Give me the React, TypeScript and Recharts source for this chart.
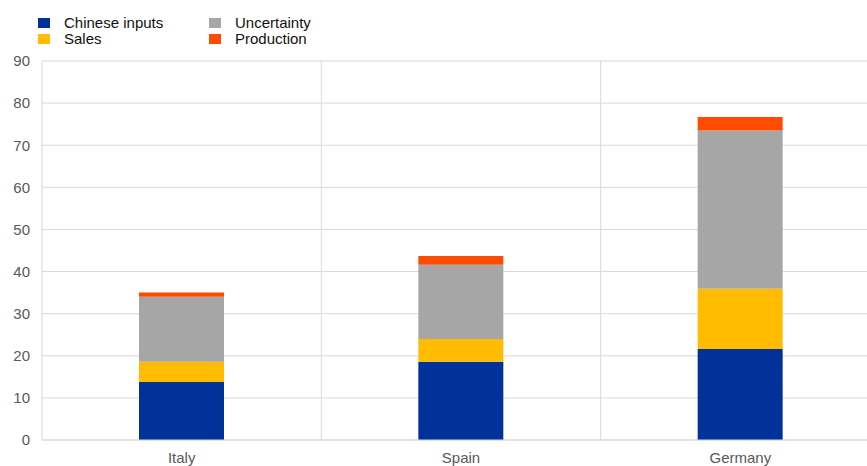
import { BarChart, Bar, XAxis, YAxis, CartesianGrid } from "recharts";

const countries = ["Italy", "Spain", "Germany"];
const chineseInputs = [13.8, 18.6, 21.6];
const sales = [4.8, 5.4, 14.3];
const uncertainty = [15.4, 17.6, 37.6];
const production = [1.0, 2.1, 3.2];
const yTicks = [0, 10, 20, 30, 40, 50, 60, 70, 80, 90];

const SERIES = [
  { key: "chineseInputs", name: "Chinese inputs", color: "#003299" },
  { key: "sales", name: "Sales", color: "#FFBC00" },
  { key: "uncertainty", name: "Uncertainty", color: "#A6A6A6" },
  { key: "production", name: "Production", color: "#FF4B00" },
];

// legend laid out column by column, like the original
const LEGEND_ORDER = ["chineseInputs", "sales", "uncertainty", "production"];

const GRID = "#d9d9d9";
const FONT = "'Liberation Sans', Arial, sans-serif";

const data = countries.map((name, i) => ({
  name,
  chineseInputs: chineseInputs[i],
  sales: sales[i],
  uncertainty: uncertainty[i],
  production: production[i],
}));

// separators sit between categories, not on them
const separators = ({ offset }: any) =>
  countries.slice(1).map((_, i) => offset.left + (offset.width * (i + 1)) / countries.length);

function LegendBlock() {
  return (
    <div style={{ position: "absolute", left: 38, top: 14, fontFamily: FONT, fontSize: 15, color: "#111" }}>
      {LEGEND_ORDER.map((k, i) => {
        const s = SERIES.find((x) => x.key === k)!;
        const col = Math.floor(i / 2);
        const row = i % 2;
        return (
          <div
            key={k}
            style={{
              position: "absolute",
              left: col * 171,
              top: row * 16,
              whiteSpace: "nowrap",
              lineHeight: "17px",
            }}
          >
            <span
              style={{
                position: "absolute",
                left: 0,
                top: 4,
                width: 12,
                height: 10,
                background: s.color,
              }}
            />
            <span style={{ position: "absolute", left: 26, top: 0 }}>{s.name}</span>
          </div>
        );
      })}
    </div>
  );
}

export default function App() {
  return (
    <div
      style={{
        position: "absolute",
        left: 0,
        top: 0,
        width: 867,
        height: 466,
        overflow: "hidden",
        background: "#fff",
      }}
    >
      <BarChart
        width={880}
        height={466}
        data={data}
        margin={{ top: 61, right: 0, bottom: 0, left: 0 }}
        style={{ fontFamily: FONT }}
      >
        <CartesianGrid vertical={false} stroke={GRID} />
        <CartesianGrid horizontal={false} stroke={GRID} verticalCoordinatesGenerator={separators} />
        <XAxis
          dataKey="name"
          height={26}
          tickLine={false}
          tickSize={0}
          tickMargin={12}
          axisLine={{ stroke: GRID }}
          tick={{ fill: "#595959", fontSize: 15 }}
        />
        <YAxis
          width={42}
          domain={[0, 90]}
          ticks={yTicks}
          tickLine={false}
          tickSize={0}
          tickMargin={12}
          axisLine={{ stroke: GRID }}
          tick={{ fill: "#595959", fontSize: 15 }}
        />
        {SERIES.map((s) => (
          <Bar
            key={s.key}
            dataKey={s.key}
            name={s.name}
            stackId="a"
            fill={s.color}
            barSize={85}
            isAnimationActive={false}
          />
        ))}
      </BarChart>
      <LegendBlock />
    </div>
  );
}
